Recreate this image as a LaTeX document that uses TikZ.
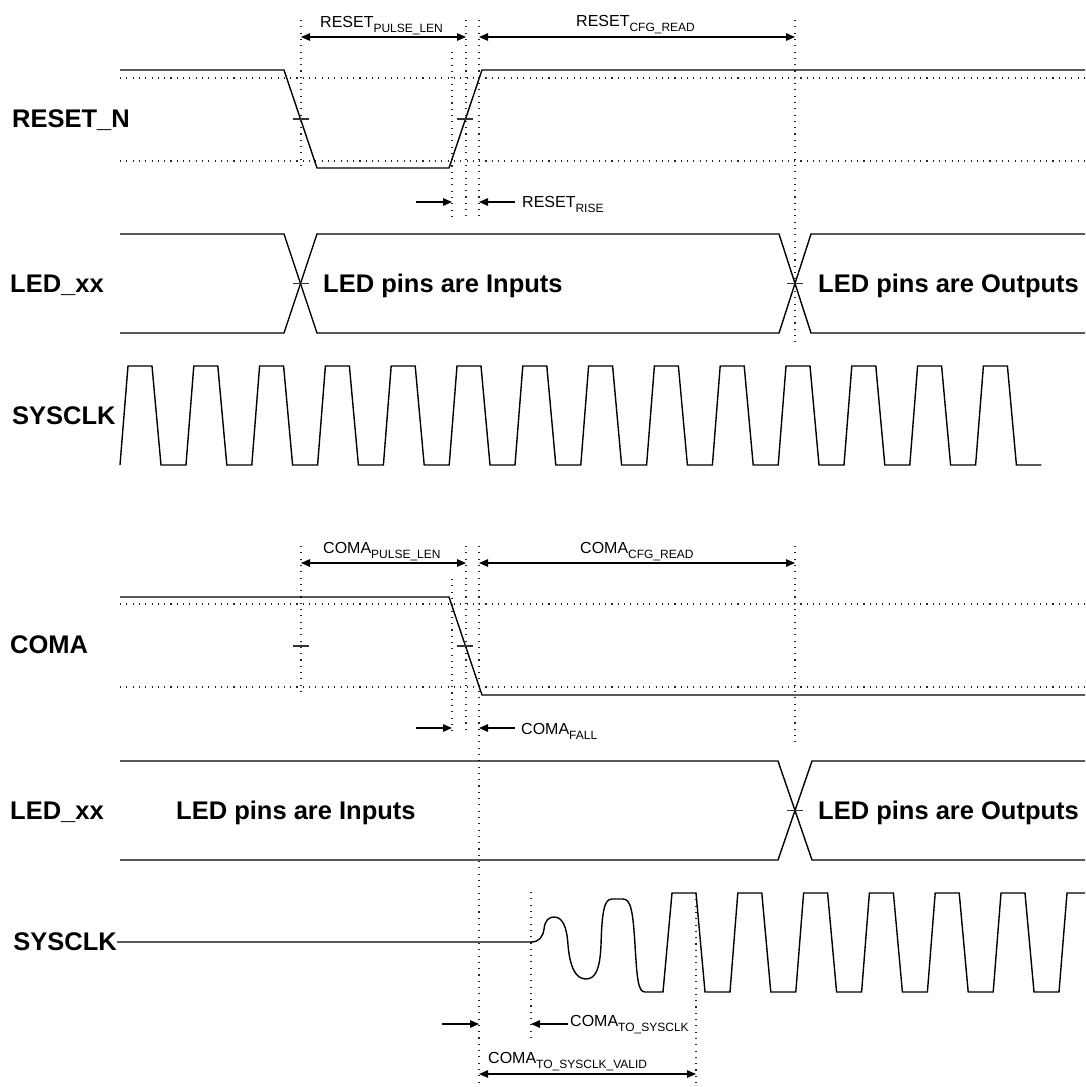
\documentclass[tikz,border=0pt]{standalone}
\usepackage{fontspec}
\setmainfont{Liberation Sans}
\usepackage{tikz}
\usetikzlibrary{arrows.meta, positioning, calc}
\newcommand{\tsub}[2]{#1\raisebox{-0.32em}{\fontsize{12}{12}\selectfont #2}}

\begin{document}
\begin{tikzpicture}[x=1pt, y=-1pt,
  wave/.style={line width=1.4pt},
  guide/.style={line width=1.1pt, dash pattern=on 1.1pt off 5.2pt, black!85},
  span/.style={line width=1.3pt, {Triangle[length=9pt,width=7.5pt]}-{Triangle[length=9pt,width=7.5pt]}},
  ptr/.style={line width=1.3pt, -{Triangle[length=9pt,width=7.5pt]}},
  tickmark/.style={line width=1.1pt, black!80},
  signame/.style={anchor=base west, inner sep=0pt, font=\fontsize{25.5}{26}\selectfont\bfseries},
  bustext/.style={anchor=base west, inner sep=0pt, font=\fontsize{25.5}{26}\selectfont\bfseries},
  tlabel/.style={anchor=base west, inner sep=0pt, font=\fontsize{16}{18}\selectfont},
]
  \useasboundingbox (0,0) rectangle (1085,1087);

  % ---- reset sequence ----
  \node[signame] (rstn) at (12,127) {RESET\_N};
  \node[signame] (led1) at (10,292) {LED\_xx};
  \node[signame] (clk1) at (12,424) {SYSCLK};

  \draw[guide] (120,78) -- (1085,78);
  \draw[guide] (120,161) -- (1085,161);
  \draw[guide] (301,20) -- (301,167);
  \draw[guide] (452,52) -- (452,218);
  \draw[guide] (466,20) -- (466,218);
  \draw[guide] (479,20) -- (479,218);
  \draw[guide] (795,20) -- (795,347);

  \draw[wave] (120,70) -- (284,70) -- (317,168) -- (449,168) -- (482,70) -- (1085,70);
  \draw[tickmark] (293,119) -- (309,119);
  \draw[tickmark] (457,119) -- (473,119);

  \coordinate (rpl-a) at (301,37);
  \coordinate (rpl-b) at (466,37);
  \coordinate (rcf-a) at (479,37);
  \coordinate (rcf-b) at (795,37);
  \draw[span] (rpl-a) -- (rpl-b);
  \draw[span] (rcf-a) -- (rcf-b);
  \node[tlabel] (rpl) at (320,27) {\tsub{RESET}{PULSE\_LEN}};
  \node[tlabel] (rcf) at (576,26) {\tsub{RESET}{CFG\_READ}};

  \coordinate (rr-in) at (416,202);
  \coordinate (rr-a) at (452,202);
  \coordinate (rr-b) at (479,202);
  \coordinate (rr-out) at (515,202);
  \draw[ptr] (rr-in) -- (rr-a);
  \draw[ptr] (rr-out) -- (rr-b);
  \node[tlabel] (rr) at (522,207) {\tsub{RESET}{RISE}};

  \draw[wave] (120,234) -- (284,234) -- (317,333) -- (779,333) -- (811,234) -- (1085,234);
  \draw[wave] (120,333) -- (284,333) -- (317,234) -- (779,234) -- (811,333) -- (1085,333);
  \draw[tickmark] (293,283.5) -- (309,283.5);
  \draw[tickmark] (787,283.5) -- (803,283.5);
  \node[bustext] (led1-in) at (323,292) {LED pins are Inputs};
  \node[bustext] (led1-out) at (818,292) {LED pins are Outputs};

  \draw[wave] (120,465) \foreach \k in {0,...,13}{
    -- ({128+65.8*\k},366) -- ({152+65.8*\k},366)
    -- ({161+65.8*\k},465) -- ({186+65.8*\k},465)};

  % ---- coma sequence ----
  \node[signame] (coma) at (10,653) {COMA};
  \node[signame] (led2) at (10,819) {LED\_xx};
  \node[signame, anchor=east] (clk2) at (117,942) {SYSCLK};

  \draw[guide] (120,604) -- (1085,604);
  \draw[guide] (120,687) -- (1085,687);
  \draw[guide] (301,546) -- (301,693);
  \draw[guide] (452,579) -- (452,735);
  \draw[guide] (466,546) -- (466,733);
  \draw[guide] (479,546) -- (479,1087);
  \draw[guide] (795,546) -- (795,742);
  \draw[guide] (531,892) -- (531,1038);
  \draw[guide] (696,893) -- (696,1085);

  \draw[wave] (120,597) -- (449,597) -- (482,695) -- (1085,695);
  \draw[tickmark] (293,646) -- (309,646);
  \draw[tickmark] (457,646) -- (473,646);

  \coordinate (cpl-a) at (301,563);
  \coordinate (cpl-b) at (466,563);
  \coordinate (ccf-a) at (479,563);
  \coordinate (ccf-b) at (795,563);
  \draw[span] (cpl-a) -- (cpl-b);
  \draw[span] (ccf-a) -- (ccf-b);
  \node[tlabel] (cpl) at (323,553) {\tsub{COMA}{PULSE\_LEN}};
  \node[tlabel] (ccf) at (580,553) {\tsub{COMA}{CFG\_READ}};

  \coordinate (cf-in) at (416,728);
  \coordinate (cf-a) at (452,728);
  \coordinate (cf-b) at (479,728);
  \coordinate (cf-out) at (515,728);
  \draw[ptr] (cf-in) -- (cf-a);
  \draw[ptr] (cf-out) -- (cf-b);
  \node[tlabel] (cf) at (521,734) {\tsub{COMA}{FALL}};

  \draw[wave] (120,761) -- (778,761) -- (812,860) -- (1085,860);
  \draw[wave] (120,860) -- (778,860) -- (812,761) -- (1085,761);
  \draw[tickmark] (787,810.5) -- (803,810.5);
  \node[bustext] (led2-in) at (176,819) {LED pins are Inputs};
  \node[bustext] (led2-out) at (818,819) {LED pins are Outputs};

  % clock starts up after coma
  \draw[wave] (clk2.east) -- (531,942)
    .. controls (539,942) and (543,937) .. (544,929)
    .. controls (545,920) and (549,917) .. (554,917)
    .. controls (563,917) and (567,928) .. (568,945)
    .. controls (570,968) and (576,979) .. (586,979)
    .. controls (596,979) and (600,968) .. (601,945)
    .. controls (602,912) and (604,899) .. (612,899)
    -- (623,899)
    .. controls (631,899) and (633,912) .. (635,945)
    .. controls (637,978) and (638,992) .. (645,992)
    -- (663,992) \foreach \k in {0,...,5}{
    -- ({672+65.8*\k},893) -- ({696+65.8*\k},893)
    -- ({705+65.8*\k},992) -- ({730+65.8*\k},992)}
    -- (1067,893) -- (1085,893);

  \coordinate (cs-in) at (442,1024);
  \coordinate (cs-a) at (479,1024);
  \coordinate (cs-b) at (531,1024);
  \coordinate (cs-out) at (568,1024);
  \draw[ptr] (cs-in) -- (cs-a);
  \draw[ptr] (cs-out) -- (cs-b);
  \node[tlabel] (cs) at (570,1026) {\tsub{COMA}{TO\_SYSCLK}};

  \coordinate (cv-a) at (479,1074);
  \coordinate (cv-b) at (696,1074);
  \draw[span] (cv-a) -- (cv-b);
  \node[tlabel] (cv) at (488,1063) {\tsub{COMA}{TO\_SYSCLK\_VALID}};
\end{tikzpicture}
\end{document}
